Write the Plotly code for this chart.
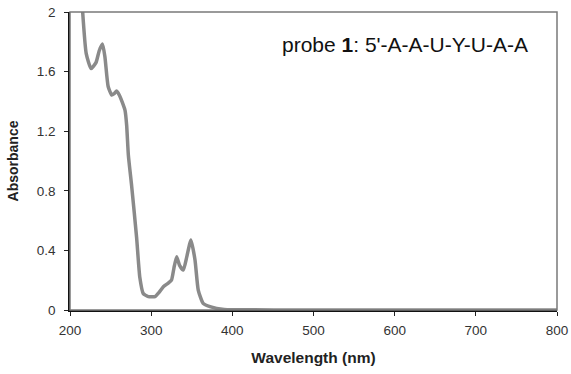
import plotly.graph_objects as go

wavelength = [215.6, 220, 226, 232, 236, 240, 243, 247, 251.4, 254, 257.5, 261, 264, 267.8, 269.8, 271.9, 276, 282, 286, 290.3, 296.5, 304.7, 310, 315, 321, 325, 328, 331.4, 335, 339.6, 344, 349, 354, 358, 364, 372.5, 380.7, 390, 400, 500, 600, 700, 800]
absorbance = [2.0, 1.72, 1.62, 1.66, 1.74, 1.785, 1.70, 1.50, 1.443, 1.45, 1.47, 1.44, 1.40, 1.34, 1.24, 1.04, 0.83, 0.49, 0.22, 0.11, 0.09, 0.09, 0.12, 0.156, 0.18, 0.2, 0.28, 0.358, 0.30, 0.268, 0.36, 0.47, 0.336, 0.134, 0.045, 0.022, 0.011, 0.004, 0.002, 0.0, 0.0, 0.0, 0.0]

x_ticks = [200, 300, 400, 500, 600, 700, 800]
y_ticks = [0, 0.4, 0.8, 1.2, 1.6, 2]
y_tick_text = ["0", "0.4", "0.8", "1.2", "1.6", "2"]

fig = go.Figure()
fig.add_trace(go.Scatter(x=wavelength, y=absorbance, mode="lines",
                         line=dict(color="#8a8a8a", width=3.5, shape="spline", smoothing=0.5),
                         cliponaxis=True, showlegend=False))

fig.add_shape(type="rect", xref="paper", yref="paper", x0=0, y0=0, x1=1, y1=1,
              line=dict(color="#7a7a7a", width=1.5), layer="above")

fig.update_layout(
    width=571, height=374,
    margin=dict(l=70, r=14, t=12, b=64),
    plot_bgcolor="white", paper_bgcolor="white",
    font=dict(family="Liberation Sans, Arial", size=13.5, color="#333"),
    xaxis=dict(range=[200, 800], tickvals=x_ticks, ticks="outside", ticklen=4,
               tickcolor="#222", showline=True, linecolor="#111", linewidth=1.5,
               showgrid=False, zeroline=False, automargin=False, ticklabelstandoff=3,
               title=dict(text="<b>Wavelength (nm)</b>", font=dict(size=15.5, color="#222"))),
    yaxis=dict(range=[0, 2], tickvals=y_ticks, ticktext=y_tick_text, ticks="outside", ticklen=4,
               tickcolor="#222", showline=True, linecolor="#111", linewidth=1.5,
               showgrid=False, zeroline=False, automargin=False, ticklabelstandoff=6,
               title=dict(text="<b>Absorbance</b>", font=dict(size=14, color="#222"))),
    annotations=[dict(x=767, y=1.78, xref="x", yref="y", xanchor="right", yanchor="middle",
                      text="probe <b>1</b>: 5'-A-A-U-Y-U-A-A", showarrow=False,
                      font=dict(size=21, color="#111", family="Liberation Sans, Arial"))],
)

fig.write_html("out.html", config={"displayModeBar": False},
               post_script="document.body.style.margin='0';document.body.style.padding='0';")
